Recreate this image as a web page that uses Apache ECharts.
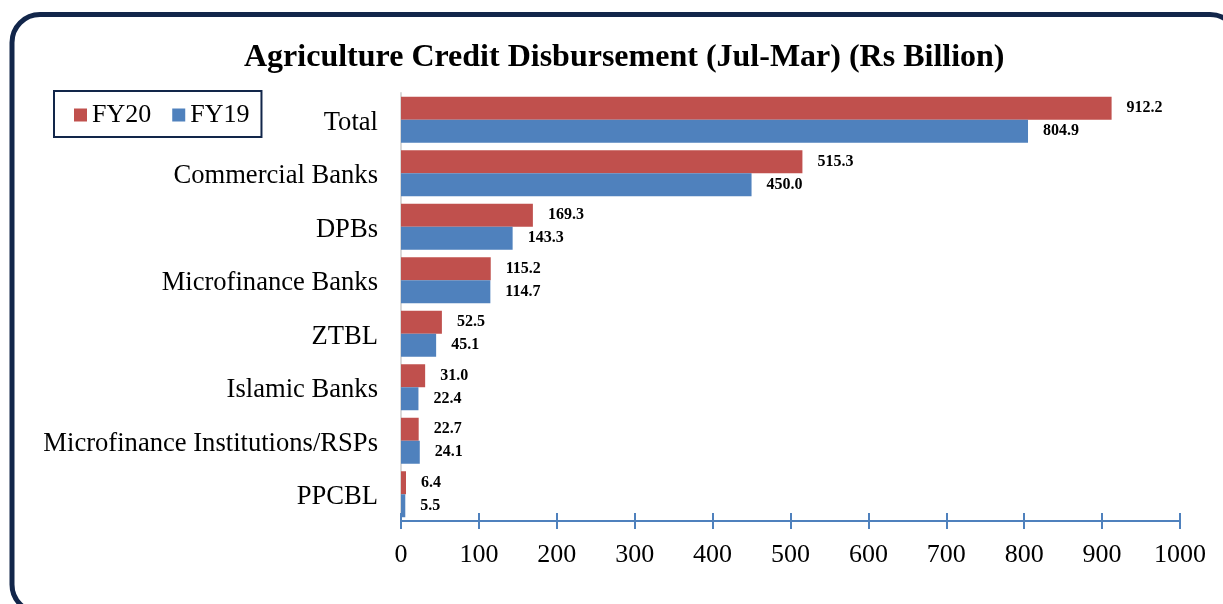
<!DOCTYPE html>
<html>
<head>
<meta charset="utf-8">
<script src="https://cdn.jsdelivr.net/npm/echarts@6/dist/echarts.min.js"></script>
<style>html,body{margin:0;padding:0;background:#fff;}#c{width:1223px;height:604px;}</style>
</head>
<body>
<div id="c"></div>
<script>
const categories = ['Total','Commercial Banks','DPBs','Microfinance Banks','ZTBL','Islamic Banks','Microfinance Institutions/RSPs','PPCBL'];
const fy20 = [912.2, 515.3, 169.3, 115.2, 52.5, 31.0, 22.7, 6.4];
const fy19 = [804.9, 450.0, 143.3, 114.7, 45.1, 22.4, 24.1, 5.5];
const xTicks = [0,100,200,300,400,500,600,700,800,900,1000];

const serif = '"Liberation Serif","Times New Roman",serif';
const chart = echarts.init(document.getElementById('c'), null, {renderer:'canvas'});
const lbl = {show:true, position:'right', distance:15, fontFamily:serif, fontWeight:'bold', fontSize:16, color:'#000', formatter: p => Number(p.value).toFixed(1)};
chart.setOption({
  animation:false,
  graphic:[{type:'rect', shape:{x:12, y:14.5, width:1226, height:598, r:28}, style:{fill:'none', stroke:'#12264a', lineWidth:5}, z:-1}],
  title:{text:'Agriculture Credit Disbursement (Jul-Mar) (Rs Billion)', left:239, top:37, textStyle:{fontFamily:serif, fontWeight:'bold', fontSize:32, color:'#000'}},
  legend:{left:54, top:91, orient:'horizontal', data:['FY20','FY19'], icon:'rect', itemWidth:13, itemHeight:13, itemGap:21,
    padding:[11,12,9,20], borderColor:'#12264a', borderWidth:2,
    textStyle:{fontFamily:serif, fontSize:26, color:'#000'}},
  grid:{left:401, right:43, top:93, bottom:83, containLabel:false},
  xAxis:[{type:'value', min:0, max:1000, interval:100, position:'bottom',
    axisLine:{show:true, lineStyle:{color:'#4f81bd', width:2}},
    axisTick:{show:true, length:8, lineStyle:{color:'#4f81bd', width:2}},
    axisLabel:{fontFamily:serif, fontSize:26, color:'#000', margin:21, formatter: v => xTicks.includes(v) ? String(v) : ''},
    splitLine:{show:false}},
    {type:'value', min:0, max:1000, interval:100, position:'bottom',
    axisLine:{show:false}, axisTick:{show:true, inside:true, length:8, lineStyle:{color:'#4f81bd', width:2}},
    axisLabel:{show:false}, splitLine:{show:false}}],
  yAxis:{type:'category', data:categories, inverse:true,
    axisLine:{show:true, lineStyle:{color:'#d9d9d9', width:2}}, axisTick:{show:false},
    axisLabel:{margin:23, formatter: v => '{a|' + v + '}',
      rich:{a:{fontFamily:serif, fontSize:26.6, color:'#000', padding:[6,0,0,0]}}}},
  series:[
    {name:'FY20', type:'bar', data:fy20, barWidth:23, barGap:'0%', itemStyle:{color:'#c0504d'}, label:lbl},
    {name:'FY19', type:'bar', data:fy19, barWidth:23, barGap:'0%', itemStyle:{color:'#4f81bd'}, label:lbl}
  ]
});
</script>
</body>
</html>
